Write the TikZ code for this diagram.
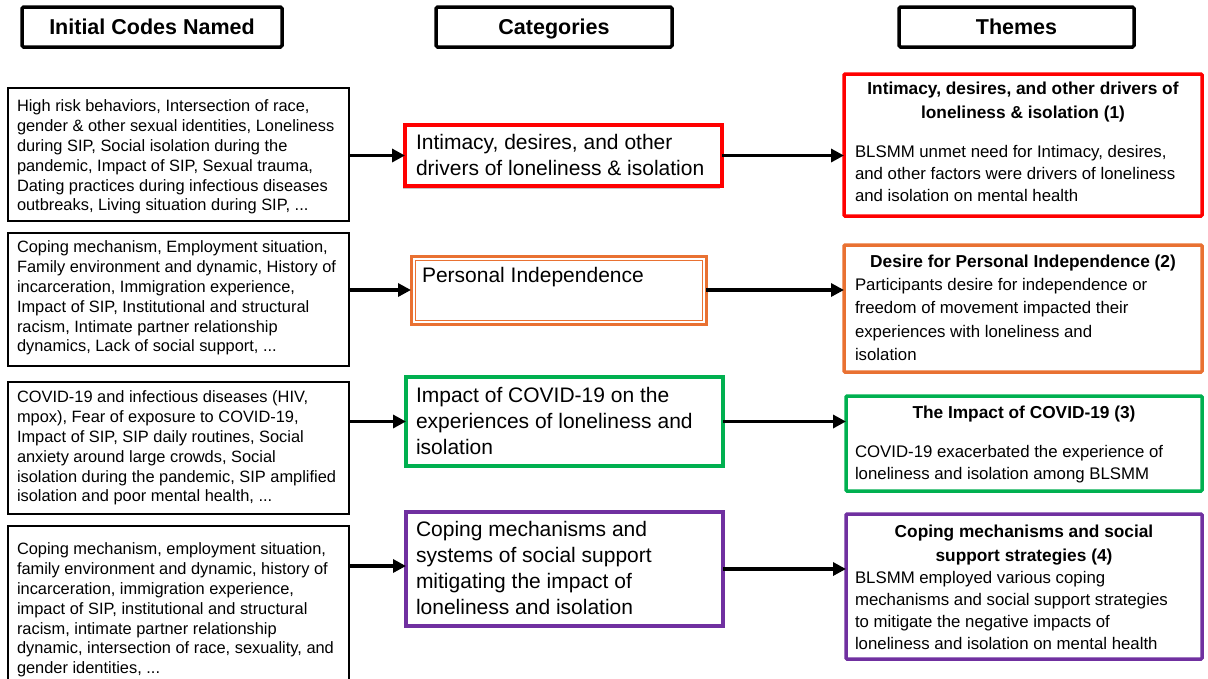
\documentclass[tikz,border=0pt]{standalone}
\usepackage{fontspec}
\setmainfont{Liberation Sans}
\usetikzlibrary{arrows.meta,shadows}
\definecolor{cred}{HTML}{FF0000}
\definecolor{corange}{HTML}{E97132}
\definecolor{cgreen}{HTML}{00B050}
\definecolor{cpurple}{HTML}{7030A0}
\newcommand\bx[6]{\node[#6, minimum width={(#4-#2)*1pt}, minimum height={(#5-#3)*1pt}] (#1) at ({(#2+#4)/2},{(#3+#5)/2}) {};}
\tikzset{
  box/.style={draw, rectangle, inner sep=0pt, outer sep=0pt, fill=white},
  hdrbox/.style={box, line width=3.5pt, rounded corners=1.5pt, text height=17.5pt, text depth=2.5pt, font=\fontsize{21.5}{26}\selectfont\bfseries},
  codebox/.style={box, line width=2.4pt},
  catbox/.style={box, line width=4pt},
  thmbox/.style={box, line width=3.5pt, rounded corners=1pt},
  txt/.style={inner sep=0pt, outer sep=0pt, align=left, anchor=north west},
  codetxt/.style={txt, font=\fontsize{16.4}{19.8}\selectfont},
  cattxt/.style={txt, font=\fontsize{21}{26}\selectfont},
  thmtitle/.style={inner sep=0pt, outer sep=0pt, align=center, anchor=north, font=\fontsize{17.3}{24}\selectfont\bfseries},
  thmtxt/.style={txt, font=\fontsize{16.8}{22}\selectfont},
  arr/.style={line width=3.6pt, -{Triangle[length=13pt,width=13pt]}},
}
\begin{document}
\begin{tikzpicture}[x=1pt,y=-1pt]
\useasboundingbox (0,0) rectangle (1208,678);
% headers
\node[hdrbox, minimum width=260pt, minimum height=40pt] (h1) at (152,27) {Initial Codes Named};
\node[hdrbox, minimum width=236pt, minimum height=40pt] (h2) at (554,27) {Categories};
\node[hdrbox, minimum width=235pt, minimum height=40pt] (h3) at (1016.5,27) {Themes};
% left code boxes
\bx{l1}{8}{88}{349}{221}{codebox}
\bx{l2}{8}{233}{349}{366}{codebox}
\bx{l3}{8}{382}{349}{514}{codebox}
\bx{l4}{8}{526}{349}{690}{codebox}
\node[codetxt] (t1) at (17,98) {\strut High risk behaviors, Intersection of race,\\gender \& other sexual identities, Loneliness\\during SIP, Social isolation during the\\pandemic, Impact of SIP, Sexual trauma,\\Dating practices during infectious diseases\\outbreaks, Living situation during SIP, ...};
\node[codetxt] (t2) at (17,239) {\strut Coping mechanism, Employment situation,\\Family environment and dynamic, History of\\incarceration, Immigration experience,\\Impact of SIP, Institutional and structural\\racism, Intimate partner relationship\\dynamics, Lack of social support, ...};
\node[codetxt] (t3) at (17,389) {\strut COVID-19 and infectious diseases (HIV,\\mpox), Fear of exposure to COVID-19,\\Impact of SIP, SIP daily routines, Social\\anxiety around large crowds, Social\\isolation during the pandemic, SIP amplified\\isolation and poor mental health, ...};
\node[codetxt] (t4) at (17,541) {\strut Coping mechanism, employment situation,\\family environment and dynamic, history of\\incarceration, immigration experience,\\impact of SIP, institutional and structural\\racism, intimate partner relationship\\dynamic, intersection of race, sexuality, and\\gender identities, ...};
% categories
\bx{m1}{405}{125}{722}{186}{catbox, draw=cred, drop shadow={shadow xshift=-2.5pt, shadow yshift=-2.5pt, opacity=0.45}}
\bx{m2}{411}{256}{706}{324}{box, draw=corange, line width=3pt}
\draw[corange, line width=0.8pt] ([shift={(4pt,-4pt)}]m2.north west) rectangle ([shift={(-4pt,4pt)}]m2.south east);
\bx{m3}{406}{377}{723}{466}{catbox, draw=cgreen}
\bx{m4}{406}{512}{723}{626}{catbox, draw=cpurple}
\node[cattxt] (c1) at (416,131) {\strut Intimacy, desires, and other\\drivers of loneliness \& isolation};
\node[cattxt] (c2) at (422,264) {\strut Personal Independence};
\node[cattxt] (c3) at (416,384) {\strut Impact of COVID-19 on the\\experiences of loneliness and\\isolation};
\node[cattxt] (c4) at (416,518) {\strut Coping mechanisms and\\systems of social support\\mitigating the impact of\\loneliness and isolation};
% themes
\bx{r1}{844}{74}{1202}{216}{thmbox, draw=cred}
\bx{r2}{844}{245}{1202}{372}{thmbox, draw=corange}
\bx{r3}{846}{396}{1202}{491}{thmbox, draw=cgreen}
\bx{r4}{846}{514}{1202}{659}{thmbox, draw=cpurple}
\node[thmtitle] (s1) at (1023,78) {\strut Intimacy, desires, and other drivers of\\loneliness \& isolation (1)};
\node[thmtxt] (b1) at (855,142) {\strut BLSMM unmet need for Intimacy, desires,\\and other factors were drivers of loneliness\\and isolation on mental health};
\node[thmtitle] (s2) at (1023,251) {\strut Desire for Personal Independence (2)};
\node[thmtxt, font=\fontsize{16.8}{23.4}\selectfont] (b2) at (855,274) {\strut Participants desire for independence or\\freedom of movement impacted their\\experiences with loneliness and\\isolation};
\node[thmtitle] (s3) at (1024,402) {\strut The Impact of COVID-19 (3)};
\node[thmtxt] (b3) at (855,442) {\strut COVID-19 exacerbated the experience of\\loneliness and isolation among BLSMM};
\node[thmtitle] (s4) at (1024,521) {\strut Coping mechanisms and social\\support strategies (4)};
\node[thmtxt] (b4) at (855,568) {\strut BLSMM employed various coping\\mechanisms and social support strategies\\to mitigate the negative impacts of\\loneliness and isolation on mental health};
% arrows
\draw[arr] (l1.east |- m1.west) -- (m1.west);
\draw[arr] (l2.east |- m2.west) -- (m2.west);
\draw[arr] (l3.east |- m3.west) -- (m3.west);
\draw[arr] (l4.east |- 0,566) -- (m4.west |- 0,566);
\draw[arr] (m1.east) -- (r1.west |- m1.east);
\draw[arr] (m2.east) -- (r2.west |- m2.east);
\draw[arr] (m3.east) -- (r3.west |- m3.east);
\draw[arr] (m4.east) -- (r4.west |- m4.east);
\end{tikzpicture}
\end{document}
